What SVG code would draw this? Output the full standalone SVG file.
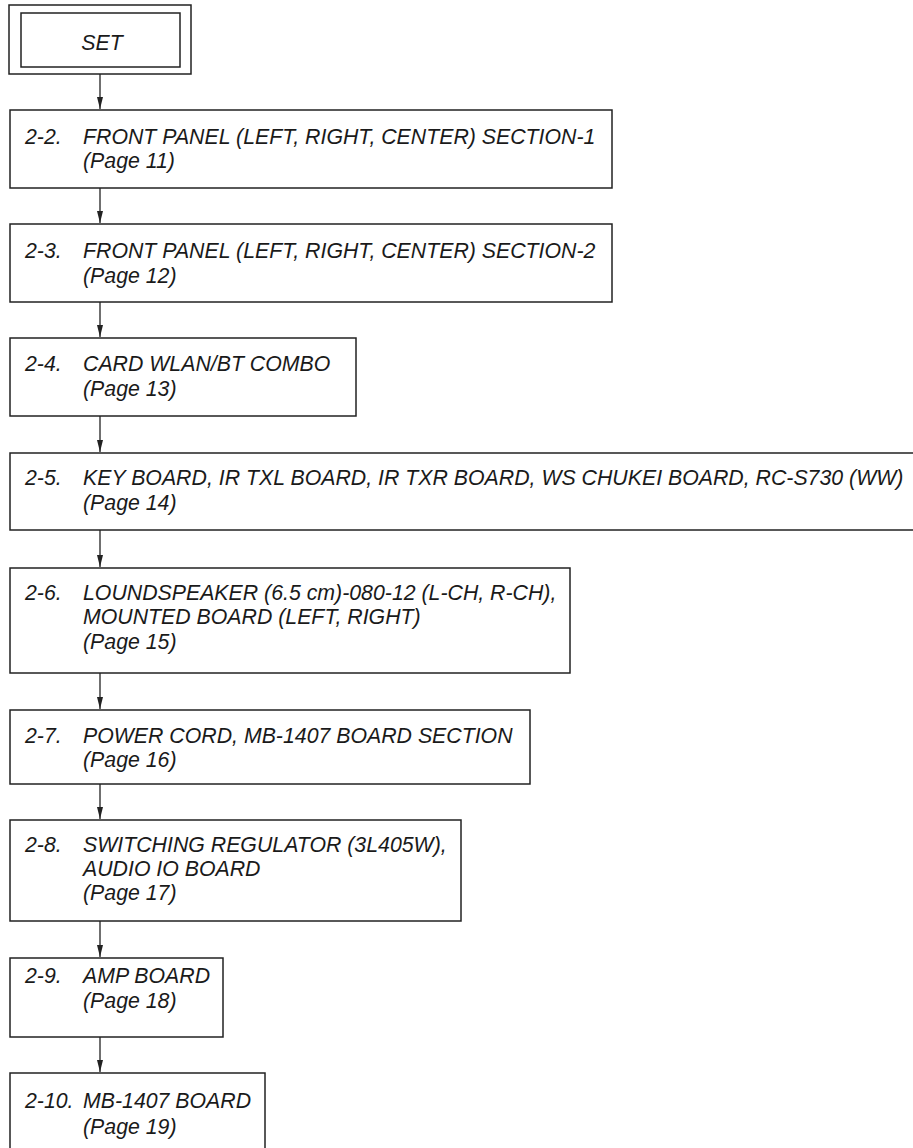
<svg xmlns="http://www.w3.org/2000/svg" width="913" height="1148" viewBox="0 0 913 1148">
<style>
.box{fill:#fff;stroke:#222;stroke-width:1.5}
.t{font-family:"Liberation Sans",Arial,sans-serif;font-style:italic;font-size:21.3px;fill:#1a1a1a}
.c{stroke:#222;stroke-width:1.3;fill:none}
.ah{fill:#222}
</style>
<rect width="913" height="1148" fill="#fff"/>
<g id="connectors">
<line class="c" x1="100" y1="74" x2="100" y2="109"/>
<path class="ah" d="M97,97 L103,97 L100,109 Z"/>
<line class="c" x1="100" y1="188" x2="100" y2="223"/>
<path class="ah" d="M97,211 L103,211 L100,223 Z"/>
<line class="c" x1="100" y1="302" x2="100" y2="337"/>
<path class="ah" d="M97,325 L103,325 L100,337 Z"/>
<line class="c" x1="100" y1="416" x2="100" y2="452"/>
<path class="ah" d="M97,440 L103,440 L100,452 Z"/>
<line class="c" x1="100" y1="530" x2="100" y2="567"/>
<path class="ah" d="M97,555 L103,555 L100,567 Z"/>
<line class="c" x1="100" y1="673" x2="100" y2="709"/>
<path class="ah" d="M97,697 L103,697 L100,709 Z"/>
<line class="c" x1="100" y1="784" x2="100" y2="819"/>
<path class="ah" d="M97,807 L103,807 L100,819 Z"/>
<line class="c" x1="100" y1="921" x2="100" y2="957"/>
<path class="ah" d="M97,945 L103,945 L100,957 Z"/>
<line class="c" x1="100" y1="1037" x2="100" y2="1072"/>
<path class="ah" d="M97,1060 L103,1060 L100,1072 Z"/>
</g>
<g id="set">
<rect class="box" x="9" y="5" width="182" height="69"/>
<rect class="box" x="21" y="13" width="159" height="54"/>
<text class="t" x="102" y="50" text-anchor="middle">SET</text>
</g>
<g id="n2-2">
<rect class="box" x="10" y="110" width="602" height="78"/>
<text class="t" x="25" y="144">2-2.</text>
<text class="t" x="83" y="144">FRONT PANEL (LEFT, RIGHT, CENTER) SECTION-1</text>
<text class="t" x="83" y="168">(Page 11)</text>
</g>
<g id="n2-3">
<rect class="box" x="10" y="224" width="602" height="78"/>
<text class="t" x="25" y="258">2-3.</text>
<text class="t" x="83" y="258">FRONT PANEL (LEFT, RIGHT, CENTER) SECTION-2</text>
<text class="t" x="83" y="283">(Page 12)</text>
</g>
<g id="n2-4">
<rect class="box" x="10" y="338" width="346" height="78"/>
<text class="t" x="25" y="371">2-4.</text>
<text class="t" x="83" y="371">CARD WLAN/BT COMBO</text>
<text class="t" x="83" y="396">(Page 13)</text>
</g>
<g id="n2-5">
<rect class="box" x="10" y="453" width="930" height="77"/>
<text class="t" x="25" y="485">2-5.</text>
<text class="t" x="83" y="485">KEY BOARD, IR TXL BOARD, IR TXR BOARD, WS CHUKEI BOARD, RC-S730 (WW)</text>
<text class="t" x="83" y="510">(Page 14)</text>
</g>
<g id="n2-6">
<rect class="box" x="10" y="568" width="560" height="105"/>
<text class="t" x="25" y="600">2-6.</text>
<text class="t" x="83" y="600">LOUNDSPEAKER (6.5 cm)-080-12 (L-CH, R-CH),</text>
<text class="t" x="83" y="624">MOUNTED BOARD (LEFT, RIGHT)</text>
<text class="t" x="83" y="649">(Page 15)</text>
</g>
<g id="n2-7">
<rect class="box" x="10" y="710" width="520" height="74"/>
<text class="t" x="25" y="743">2-7.</text>
<text class="t" x="83" y="743">POWER CORD, MB-1407 BOARD SECTION</text>
<text class="t" x="83" y="767">(Page 16)</text>
</g>
<g id="n2-8">
<rect class="box" x="10" y="820" width="451" height="101"/>
<text class="t" x="25" y="852">2-8.</text>
<text class="t" x="83" y="852">SWITCHING REGULATOR (3L405W),</text>
<text class="t" x="83" y="876">AUDIO IO BOARD</text>
<text class="t" x="83" y="900">(Page 17)</text>
</g>
<g id="n2-9">
<rect class="box" x="10" y="958" width="213" height="79"/>
<text class="t" x="25" y="983">2-9.</text>
<text class="t" x="83" y="983">AMP BOARD</text>
<text class="t" x="83" y="1008">(Page 18)</text>
</g>
<g id="n2-10">
<rect class="box" x="10" y="1073" width="255" height="100"/>
<text class="t" x="25" y="1108">2-10.</text>
<text class="t" x="83" y="1108">MB-1407 BOARD</text>
<text class="t" x="83" y="1134">(Page 19)</text>
</g>
</svg>
